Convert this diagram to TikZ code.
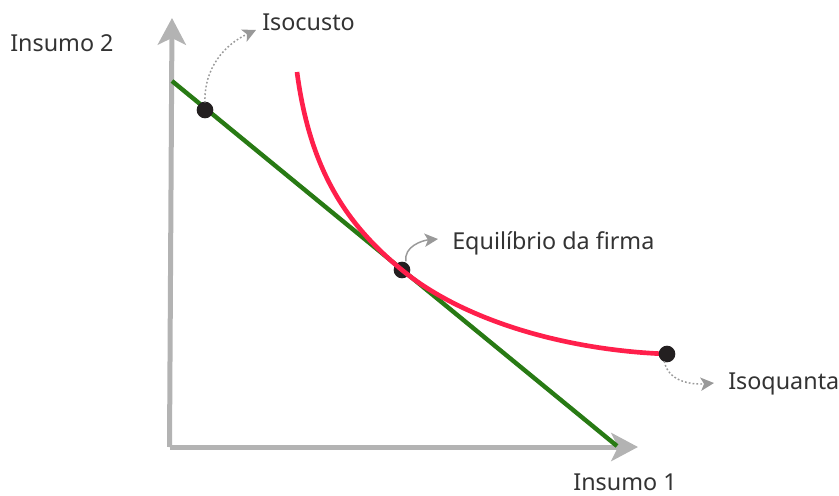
\documentclass[tikz,border=0pt]{standalone}
\usepackage{fontspec}
\setmainfont{Noto Sans}
\usetikzlibrary{positioning,arrows.meta}
\definecolor{axisgray}{HTML}{B3B3B3}
\definecolor{costgreen}{HTML}{287A14}
\definecolor{quantred}{HTML}{FF1F4B}
\definecolor{dotblack}{HTML}{231F20}
\definecolor{textgray}{HTML}{333333}
\tikzset{
    axis/.style={draw=axisgray, line width=3.75pt, -{Stealth[length=20pt,width=21pt,inset=5pt]}},
    dot/.style={circle, fill=dotblack, inner sep=0pt, minimum size=12.5pt},
    lbl/.style={text=textgray, font=\fontsize{17.5}{20}\selectfont, inner sep=0pt},
    pointer/.style={draw=gray!80, line width=1.1pt, -{Stealth[length=10pt,width=10pt,inset=2.5pt]}},
    dotted pointer/.style={pointer, dash pattern=on 1.3pt off 1.6pt},
}

\begin{document}
\begin{tikzpicture}[x=0.75pt, y=-0.75pt]
    \useasboundingbox (0,0) rectangle (839,496);
    % set up the axes
    \coordinate (O) at (172,447);
    \coordinate (Ytip) at (172,18);
    \coordinate (Xtip) at (638,447);
    \draw[axis] ([xshift=-1.875pt]O) -- (Ytip);
    \draw[axis] ([xshift=-1.875pt]O) -- (Xtip);
    \node[lbl, anchor=west] (Y) at (10,43) {Insumo 2};
    \node[lbl] (X) at (625,482) {Insumo 1};

    % isocost line and isoquant curve
    \coordinate (G1) at (172,81);
    \coordinate (G2) at (617,446);
    \draw[costgreen, line width=3.3pt] (G1) -- (G2);
    \coordinate (R1) at (297,72);
    \coordinate (R2) at (667,354);
    \node[dot] (E) at (402,270) {};
    \draw[quantred, line width=3.5pt] (R1) .. controls (310,170) and (346,224) .. (E.center)
        .. controls (460,318) and (560,350) .. (R2);

    % set up the dots
    \node[dot] (C) at (205,110) {};
    \node[dot] (Q) at (667,354) {};

    % labels and pointers
    \coordinate (Ca) at (256,30);
    \node[lbl, anchor=west] (Clbl) at (262,22) {Isocusto};
    \draw[dotted pointer] ([yshift=-1pt]C.north) to[out=92,in=205] (Ca);

    \coordinate (Ea) at (438,239);
    \node[lbl, anchor=west] (Elbl) at (452,243) {Equilíbrio da firma};
    \draw[pointer] ([xshift=3pt]E.north) to[out=100,in=185] (Ea);

    \coordinate (Qa) at (714,383);
    \node[lbl, anchor=west] (Qlbl) at (728,384) {Isoquanta};
    \draw[dotted pointer] ([xshift=-2pt,yshift=1pt]Q.south) to[out=-80,in=185] (Qa);
\end{tikzpicture}
\end{document}
